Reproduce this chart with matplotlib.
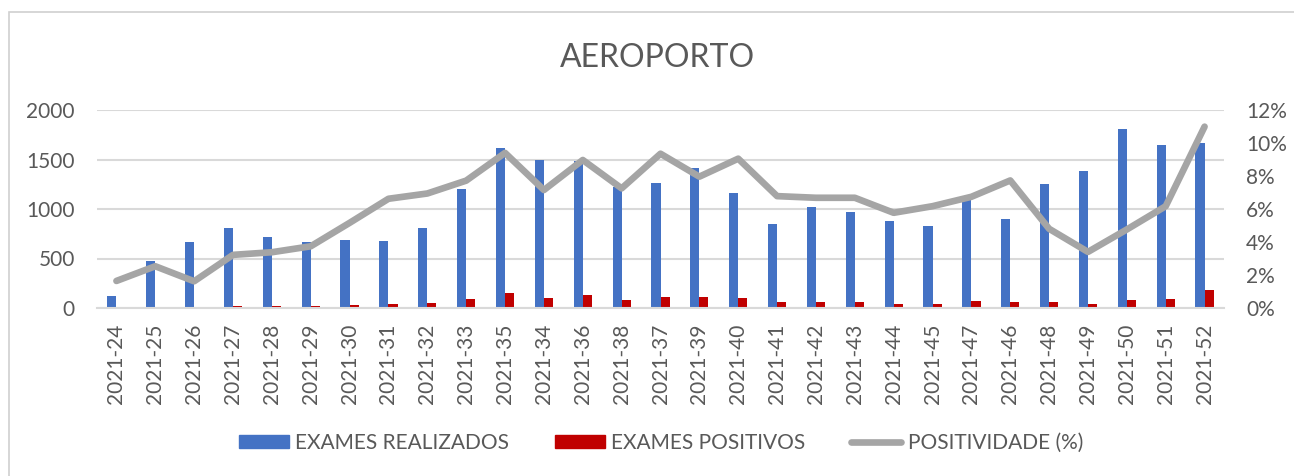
import matplotlib
matplotlib.use("Agg")
import matplotlib.pyplot as plt
from matplotlib.patches import Rectangle
from matplotlib.lines import Line2D
from matplotlib.ticker import FuncFormatter
import numpy as np

plt.rcParams['font.family'] = ['Lato', 'DejaVu Sans']

weeks = ["2021-24", "2021-25", "2021-26", "2021-27", "2021-28", "2021-29", "2021-30",
         "2021-31", "2021-32", "2021-33", "2021-35", "2021-34", "2021-36", "2021-38",
         "2021-37", "2021-39", "2021-40", "2021-41", "2021-42", "2021-43", "2021-44",
         "2021-45", "2021-47", "2021-46", "2021-48", "2021-49", "2021-50", "2021-51",
         "2021-52"]
exames_realizados = [122, 479, 671, 810, 715, 668, 685, 681, 810, 1204, 1612, 1494,
                     1481, 1221, 1262, 1410, 1157, 853, 1022, 965, 880, 833, 1086, 894,
                     1255, 1380, 1805, 1643, 1663]
exames_positivos = [2, 3, 3, 24, 17, 17, 30, 44, 51, 91, 148, 101, 128, 81, 115, 111,
                    101, 57, 64, 57, 44, 44, 71, 64, 57, 44, 84, 94, 182]
positividade = [1.64, 2.53, 1.62, 3.22, 3.38, 3.74, 5.16, 6.62, 6.94, 7.72, 9.40, 7.15,
                8.97, 7.25, 9.35, 7.96, 9.05, 6.78, 6.68, 6.68, 5.77, 6.17, 6.74, 7.73,
                4.80, 3.40, 4.76, 6.17, 10.99]

BLUE = "#4472C4"
RED = "#C00000"
GRAY = "#A5A5A5"
TXT = "#595959"
GRID = "#D9D9D9"

fig = plt.figure(figsize=(12.94, 4.76), dpi=100)
# chart frame
fig.patches.append(Rectangle((9 / 1294, -0.05), 1.1, 1 - 12 / 476 + 0.05,
                             transform=fig.transFigure, fill=False,
                             edgecolor="#D0D0D0", linewidth=1.2))

ax = fig.add_axes([97 / 1294, 1 - 308 / 476, (1224 - 97) / 1294, (308 - 110) / 476])
x = np.arange(len(weeks))
w = 0.235
ax.bar(x - w / 2, exames_realizados, width=w, color=BLUE, zorder=2)
ax.bar(x + w / 2, exames_positivos, width=w, color=RED, zorder=2)
ax.set_xlim(-0.5, len(weeks) - 0.5)
ax.set_ylim(0, 2000)
ax.set_yticks([0, 500, 1000, 1500, 2000])
ax.yaxis.grid(True, color=GRID, linewidth=1.5, zorder=0)
ax.set_axisbelow(True)
for s in ["top", "right", "left"]:
    ax.spines[s].set_visible(False)
ax.spines["bottom"].set_color(GRID)
ax.spines["bottom"].set_linewidth(1.5)
ax.set_xticks(x)
ax.set_xticklabels(weeks, rotation=90, fontsize=15, color=TXT)
ax.tick_params(axis="x", length=0, pad=11)
ax.tick_params(axis="y", length=0, pad=16, labelsize=15, labelcolor=TXT)

ax2 = ax.twinx()
ax2.plot(x, positividade, color=GRAY, linewidth=4.8, solid_capstyle="round",
         solid_joinstyle="round", zorder=3)
ax2.set_ylim(0, 12)
ax2.set_yticks([0, 2, 4, 6, 8, 10, 12])
ax2.yaxis.set_major_formatter(FuncFormatter(lambda v, p: f"{int(v)}%"))
ax2.tick_params(axis="y", length=0, pad=16, labelsize=15, labelcolor=TXT)
for s in ax2.spines.values():
    s.set_visible(False)

fig.text(657 / 1294, 1 - 58 / 476, "AEROPORTO", ha="center", va="center",
         fontsize=23, color=TXT, fontweight="normal")

handles = [Rectangle((0, 0), 1, 1, color=BLUE),
           Rectangle((0, 0), 1, 1, color=RED),
           Line2D([0], [0], color=GRAY, linewidth=4.8, solid_capstyle="round")]
labels = ["EXAMES REALIZADOS", "EXAMES POSITIVOS", "POSITIVIDADE (%)"]
fig.legend(handles, labels, loc="center", bbox_to_anchor=(661 / 1294, 1 - 443 / 476),
           ncol=3, frameon=False, fontsize=15, labelcolor=TXT, handlelength=2.4,
           handleheight=0.62, handletextpad=0.3, columnspacing=2.2)

fig.savefig("out.png", dpi=100)
